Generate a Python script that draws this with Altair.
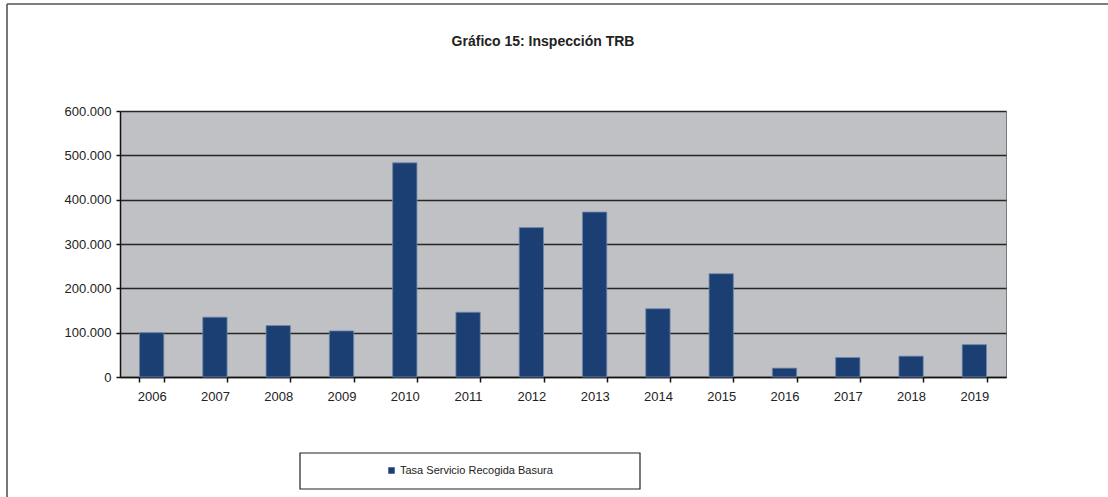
import altair as alt
import pandas as pd

# Annual amounts of the TRB inspection (Tasa Servicio Recogida Basura)
years = [str(y) for y in range(2006, 2020)]
values = [100000, 135000, 116000, 104000, 483000, 146000, 337000,
          372000, 154000, 233000, 20000, 44000, 47000, 73000]
series_name = "Tasa Servicio Recogida Basura"
y_ticks = [0, 100000, 200000, 300000, 400000, 500000, 600000]
chart_title = "Gráfico 15: Inspección TRB"

df = pd.DataFrame({"Año": years, "Importe": values, "Serie": series_name})

FONT = "Liberation Sans, Arial"
BAR = "#1b3f73"

bars = alt.Chart(df).mark_bar(stroke="#6f88ab", strokeWidth=0.8).encode(
    x=alt.X(
        "Año:N", sort=years,
        scale=alt.Scale(paddingInner=0.616, paddingOuter=0.308),
        axis=alt.Axis(title=None, labelAngle=0, tickBand="extent",
                      domainColor="#111", domainWidth=1.5,
                      tickColor="#111", tickSize=5, tickWidth=1.5,
                      labelPadding=8, labelFontSize=13, labelColor="#222",
                      labelFont=FONT, grid=False),
    ),
    y=alt.Y(
        "Importe:Q",
        scale=alt.Scale(domain=[0, 600000], nice=False),
        axis=alt.Axis(title=None, values=y_ticks,
                      labelExpr="datum.value == 0 ? '0' : format(datum.value / 1000, 'd') + '.000'",
                      domainColor="#111", domainWidth=1.5,
                      tickColor="#111", tickSize=4, tickWidth=1.5,
                      labelPadding=5, labelFontSize=13, labelColor="#222",
                      labelFont=FONT, grid=True, gridColor="#262626",
                      gridWidth=1.3),
    ),
    color=alt.Color(
        "Serie:N",
        scale=alt.Scale(range=[BAR]),
        legend=alt.Legend(title=None, orient="none", legendX=266, legendY=354,
                          symbolType="square", symbolSize=42,
                          symbolStrokeWidth=0, labelFont=FONT,
                          labelFontSize=11, labelColor="#222",
                          labelLimit=400, padding=0, labelOffset=3),
    ),
)

one = alt.Data(values=[{}])

# Outer frame of the figure (top and left edges)
frame_top = alt.Chart(one).mark_rule(color="#555", strokeWidth=1.6).encode(
    x=alt.value(-113), x2=alt.value(990), y=alt.value(-107))
frame_left = alt.Chart(one).mark_rule(color="#555", strokeWidth=1.6).encode(
    x=alt.value(-113), y=alt.value(-107), y2=alt.value(390))

# Chart heading
heading = alt.Chart(one).mark_text(
    text=chart_title, font=FONT, fontSize=14, fontWeight="bold",
    color="#222", align="center", baseline="alphabetic",
).encode(x=alt.value(423), y=alt.value(-65))

# Box around the legend
legend_box = alt.Chart(one).mark_rect(fill="white", stroke="#222", strokeWidth=1.2).encode(
    x=alt.value(180), x2=alt.value(520), y=alt.value(342), y2=alt.value(378))

chart = alt.layer(frame_top, frame_left, heading, legend_box, bars).properties(
    width=886,
    height=266,
    autosize=alt.AutoSizeParams(type="none"),
    padding={"left": 120, "top": 111, "right": 102, "bottom": 120},
).configure(
    background="white"
).configure_view(
    fill="#c0c1c5", stroke="#7a7a7a", strokeWidth=1
)

chart.save("out.html", embed_options={"renderer": "svg", "actions": False})
